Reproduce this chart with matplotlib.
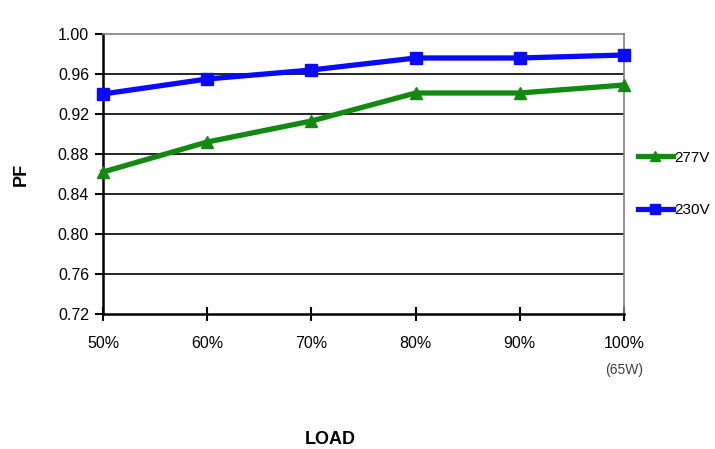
import matplotlib.pyplot as plt

## Data
loads = ["50%", "60%", "70%", "80%", "90%", "100%"]
pf_277v = [0.862, 0.892, 0.913, 0.941, 0.941, 0.949]
pf_230v = [0.940, 0.955, 0.964, 0.976, 0.976, 0.979]
y_ticks = [0.72, 0.76, 0.80, 0.84, 0.88, 0.92, 0.96, 1.00]

plt.rcParams['font.family'] = ['Liberation Sans', 'DejaVu Sans']

fig = plt.figure(figsize=(7.15, 4.49), dpi=100)
ax = fig.add_axes([103 / 715, 1 - 314 / 449, (624 - 103) / 715, (314 - 34) / 449])

x = list(range(len(loads)))

## Grid lines (drawn behind the series)
for yv in y_ticks[1:-1]:
    ax.axhline(yv, color='black', lw=1.2, zorder=1)

l277, = ax.plot(x, pf_277v, color='#138913', lw=3.8, marker='^', markersize=9,
                label='277V', zorder=3, clip_on=False)
l230, = ax.plot(x, pf_230v, color='#0a0aff', lw=3.8, marker='s', markersize=9,
                label='230V', zorder=4, clip_on=False)

ax.set_xlim(0, 5)
ax.set_ylim(0.72, 1.00)
ax.set_xticks(x)
ax.set_xticklabels(loads, fontsize=11.5)
ax.set_yticks(y_ticks)
ax.set_yticklabels([f"{v:.2f}" for v in y_ticks], fontsize=11.5)

ax.tick_params(axis='x', direction='inout', length=10, width=1.5, pad=11)
ax.tick_params(axis='y', direction='out', length=6, width=1.5, pad=4)

ax.spines['left'].set_linewidth(1.8)
ax.spines['bottom'].set_linewidth(1.8)
ax.spines['top'].set_color('#808080')
ax.spines['right'].set_color('#808080')
ax.spines['top'].set_linewidth(1.2)
ax.spines['right'].set_linewidth(1.2)

ax.set_ylabel("PF", fontsize=13, fontweight='bold', labelpad=20)
fig.text(330 / 715, 1 - 440 / 449, "LOAD", fontsize=13, fontweight='bold',
         ha='center', va='center')
fig.text(624 / 715, 1 - 370 / 449, "(65W)", fontsize=10, color='#404040',
         ha='center', va='center')

leg = ax.legend(handles=[l277, l230], loc='center left',
                bbox_to_anchor=(1.0, 0.465), frameon=False, fontsize=11,
                handlelength=2.3, handletextpad=0.1, labelspacing=2.5,
                borderaxespad=0.5, markerscale=0.75)

fig.savefig("out.png", dpi=100)
